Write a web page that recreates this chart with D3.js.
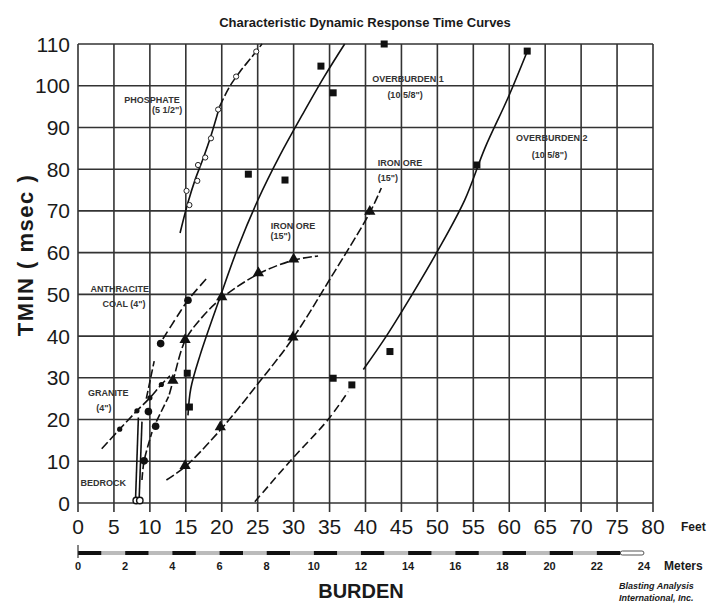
<!DOCTYPE html>
<html><head><meta charset="utf-8">
<script src="https://cdn.jsdelivr.net/npm/d3@7"></script>
<style>body{margin:0;background:#fff}svg{display:block}text{font-family:"Liberation Sans",Arial,sans-serif;fill:#1a1a1a}</style>
</head><body>
<script>
// ---- data ----
const feetTicks = [0,5,10,15,20,25,30,35,40,45,50,55,60,65,70,75,80];
const msecTicks = [0,10,20,30,40,50,60,70,80,90,100,110];
const meterTicks = [0,2,4,6,8,10,12,14,16,18,20,22,24];

const phosphatePts = [[15.1,74.8],[15.5,71.4],[16.6,77.2],[16.7,81],[17.7,82.8],[18.5,87.4],[19.5,94.3],[22,102.2],[24.8,108.2]];
const phosphateSolid = [[14.2,64.7],[15.3,72],[16.3,77.5],[17.4,82.5],[18.5,88],[19.7,95]];
const phosphateDashed = [[19.7,95],[21,99.5],[22.5,103.3],[24,106.5],[25.6,110]];

const overburden1Pts = [[15.2,31.1],[15.5,23],[23.7,78.8],[28.8,77.4],[33.8,104.7],[35.5,98.3],[42.6,110]];
const overburden1Curve = [[15.3,21],[15.7,27.5],[17,35.5],[19.7,49],[22.2,61],[25,72.5],[28,83],[31.2,93],[34.2,102],[37.1,110]];

const overburden2Pts = [[35.5,29.9],[38.1,28.3],[43.4,36.3],[55.5,81],[62.5,108.3]];
const overburden2Dashed = [[24.6,0.3],[29.5,10],[34.8,20],[37.6,26.7]];
const overburden2Solid = [[39.7,32],[42.9,40],[46.5,50],[49.9,60],[53.8,72.6],[56.6,85],[59.8,97],[62.4,107.8]];

const ironOreAPts = [[14.9,8.7],[19.8,18],[29.9,39.5],[40.6,69.6]];
const ironOreACurve = [[12.3,5.5],[14.9,8.7],[19.8,17.5],[25,28.5],[29.9,39.5],[35,53.5],[40.6,69.6],[42.2,75.5]];

const ironOreBPts = [[13.2,29.1],[14.9,38.9],[20,49.1],[25.1,54.9],[30,58.2]];
const ironOreBCurve = [[12.7,26],[13.2,29.1],[14.9,38.9],[17,44],[20,49.1],[25.1,54.9],[30,58.2],[33.4,59.2]];

const anthracitePts = [[11.5,38.2],[15.3,48.6]];
const anthraciteCurve = [[11.8,39.3],[13.9,45],[15.3,48.6],[18.1,54.2]];

const graniteSmallPts = [[5.8,17.7],[8.2,22.1],[10,25.2],[11.6,28.4]];
const granitePts = [[9.8,21.9],[10.8,18.4],[9.2,10.1]];
const graniteLine = [[3.3,13],[5.8,17.7],[8.2,22.1],[10,25.2],[11.6,28.4],[12.8,30.5]];
const graniteBranches = [
  [[8.9,5.5],[9.2,10.1],[10.3,17]],
  [[10.9,19.5],[12.6,25.5]],
  [[9.5,25],[10.6,34]]
];
const bedrockPts = [[8.1,0.6],[8.6,0.6]];
const bedrockLines = [
  [[8.0,0.6],[8.4,20.5]],
  [[8.5,0.6],[8.9,19.5]]
];

const labels = [
  {t:"PHOSPHATE", x:10.3, y:96.6},
  {t:'(5 1/2")', x:12.4, y:94.3},
  {t:"OVERBURDEN 1", x:45.9, y:101.8},
  {t:'(10 5/8")', x:45.5, y:97.8},
  {t:"OVERBURDEN 2", x:65.9, y:87.5},
  {t:'(10 5/8")', x:65.6, y:83.6},
  {t:"IRON ORE", x:44.8, y:81.5},
  {t:'(15")', x:43.1, y:77.9},
  {t:"IRON ORE", x:29.9, y:66.6},
  {t:'(15")', x:28.2, y:64},
  {t:"ANTHRACITE", x:5.8, y:51.3},
  {t:'COAL (4")', x:6.4, y:47.9},
  {t:"GRANITE", x:4.2, y:26.4},
  {t:'(4")', x:3.6, y:22.8},
  {t:"BEDROCK", x:3.5, y:5.0}
];

// ---- drawing ----
const W=714,H=604;
const svg=d3.select("body").append("svg").attr("width",W).attr("height",H);
const x=d3.scaleLinear().domain([0,80]).range([78,653]);
const y=d3.scaleLinear().domain([0,110]).range([503,44]);
const mx=d3.scaleLinear().domain([0,24]).range([x(0),x(24*3.28084)]);

svg.append("text").attr("x",365).attr("y",27).attr("text-anchor","middle")
  .style("font-size","13px").style("font-weight","bold").text("Characteristic Dynamic Response Time Curves");

// grid
const g=svg.append("g");
g.selectAll(".v").data(feetTicks).join("line")
  .attr("x1",d=>x(d)).attr("x2",d=>x(d)).attr("y1",y(110)).attr("y2",y(0)+9)
  .attr("stroke","#333").attr("stroke-width",1.6);
g.selectAll(".h").data(msecTicks).join("line")
  .attr("x1",x(0)).attr("x2",x(80)).attr("y1",d=>y(d)).attr("y2",d=>y(d))
  .attr("stroke","#333").attr("stroke-width",1.6);

// axes labels
svg.append("g").selectAll("text").data(msecTicks).join("text")
  .attr("x",70).attr("y",d=>y(d)+7.5).attr("text-anchor","end")
  .style("font-size","21px").text(d=>d);
svg.append("g").selectAll("text").data(feetTicks).join("text")
  .attr("x",d=>x(d)).attr("y",534).attr("text-anchor","middle")
  .style("font-size","21px").text(d=>d);
svg.append("text").attr("x",681).attr("y",531).style("font-size","12px").style("font-weight","bold").text("Feet");

svg.append("text").attr("transform","translate(33,255) rotate(-90)").attr("text-anchor","middle")
  .style("font-size","22px").style("font-weight","bold").style("letter-spacing","1.5px").text("TMIN ( msec )");

// meter bar
const segs=d3.range(0,24);
svg.append("g").selectAll("rect").data(segs).join("rect")
  .attr("x",d=>mx(d)).attr("y",551).attr("width",d=>mx(d+1)-mx(d)).attr("height",4)
  .attr("fill",d=>d===23?"#fff":(d%2===0?"#111":"#bbb"))
  .attr("stroke",d=>d===23?"#555":"none").attr("stroke-width",1).attr("rx",d=>d===23?2:0);
svg.append("line").attr("x1",mx(0)).attr("x2",mx(0)).attr("y1",545).attr("y2",558).attr("stroke","#333").attr("stroke-width",1.2);
svg.append("g").selectAll("text").data(meterTicks).join("text")
  .attr("x",d=>mx(d)).attr("y",570).attr("text-anchor","middle")
  .style("font-size","11px").style("font-weight","bold").text(d=>d);
svg.append("text").attr("x",664).attr("y",570).style("font-size","12px").style("font-weight","bold").text("Meters");
svg.append("text").attr("x",361).attr("y",598).attr("text-anchor","middle").style("font-size","20px").style("font-weight","bold").text("BURDEN");
svg.append("text").attr("x",619).attr("y",589).style("font-size","9px").style("font-weight","bold").style("font-style","italic").text("Blasting Analysis");
svg.append("text").attr("x",619).attr("y",601).style("font-size","9px").style("font-weight","bold").style("font-style","italic").text("International, Inc.");

// curves
const line=d3.line().x(d=>x(d[0])).y(d=>y(d[1])).curve(d3.curveCatmullRom.alpha(0.5));
const cg=svg.append("g").attr("fill","none").attr("stroke","#111").attr("stroke-width",1.6);
function path(data,dash){cg.append("path").attr("d",line(data)).attr("stroke-dasharray",dash||null);}
path(phosphateSolid);
path(phosphateDashed,"9,3");
path(overburden1Curve);
path(overburden2Dashed,"8,4");
path(overburden2Solid);
path(ironOreACurve,"9,3");
path(ironOreBCurve,"9,3");
path(anthraciteCurve,"9,4");
path(graniteLine,"9,3");
graniteBranches.forEach(b=>path(b,"8,3"));
bedrockLines.forEach(b=>path(b));

// markers
const mg=svg.append("g");
mg.selectAll(".ph").data(phosphatePts).join("circle")
  .attr("cx",d=>x(d[0])).attr("cy",d=>y(d[1])).attr("r",2.6)
  .attr("fill","#fff").attr("stroke","#222").attr("stroke-width",1);
mg.selectAll(".sq").data(overburden1Pts.concat(overburden2Pts)).join("rect")
  .attr("x",d=>x(d[0])-3.5).attr("y",d=>y(d[1])-3.5).attr("width",7).attr("height",7).attr("fill","#111");
const tri=d3.symbol().type(d3.symbolTriangle).size(55);
mg.selectAll(".tr").data(ironOreAPts.concat(ironOreBPts)).join("path")
  .attr("d",tri).attr("transform",d=>`translate(${x(d[0])},${y(d[1])-1})`).attr("fill","#111");
mg.selectAll(".ci").data(anthracitePts.concat(granitePts)).join("circle")
  .attr("cx",d=>x(d[0])).attr("cy",d=>y(d[1])).attr("r",3.8).attr("fill","#111");
mg.selectAll(".cs").data(graniteSmallPts).join("circle")
  .attr("cx",d=>x(d[0])).attr("cy",d=>y(d[1])).attr("r",2.6).attr("fill","#111");
mg.selectAll(".br").data(bedrockPts).join("circle")
  .attr("cx",d=>x(d[0])).attr("cy",d=>y(d[1])).attr("r",3.2).attr("fill","#fff").attr("stroke","#111").attr("stroke-width",1.4);

// curve labels
svg.append("g").selectAll("text").data(labels).join("text")
  .attr("x",d=>x(d.x)).attr("y",d=>y(d.y)+3.5).attr("text-anchor","middle")
  .style("font-size","9px").style("font-weight","bold").style("fill","#333").text(d=>d.t);
</script>
</body></html>
